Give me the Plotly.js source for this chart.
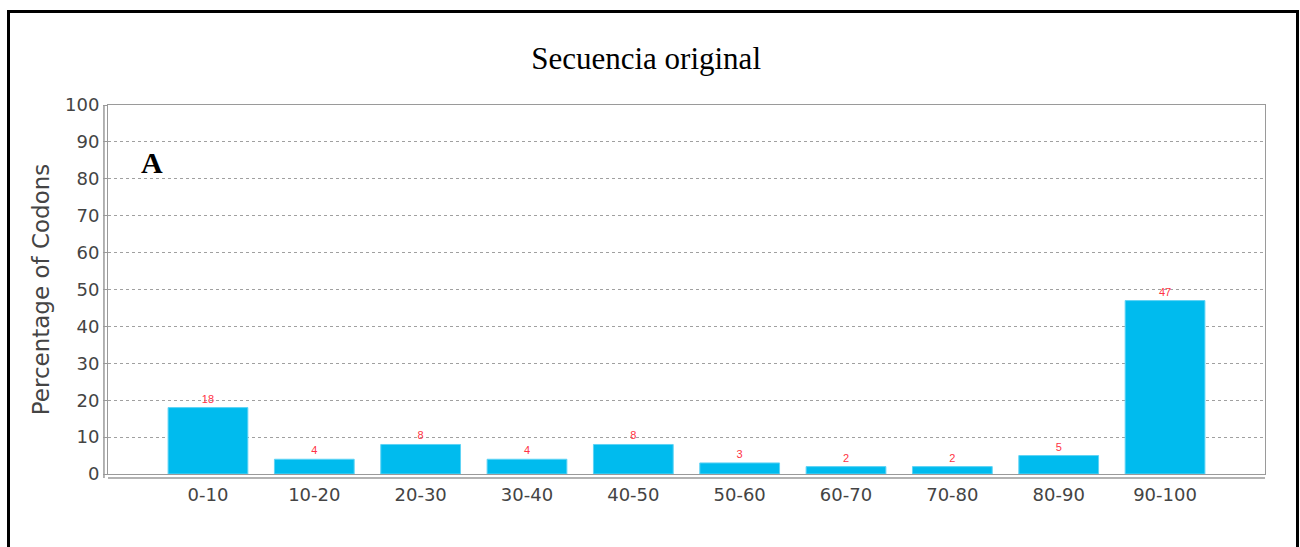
<!DOCTYPE html>
<html>
<head>
<meta charset="utf-8">
<script src="https://cdn.plot.ly/plotly-3.0.1.min.js"></script>
<style>
  html, body { margin: 0; padding: 0; background: #fff; }
  #wrap { position: relative; width: 1300px; height: 547px; overflow: hidden; }
  #chart { width: 1300px; height: 547px; }
  #frame { position: absolute; left: 7px; top: 10px; width: 1286px; height: 560px; border: 3px solid #000; pointer-events: none; }
</style>
</head>
<body>
<div id="wrap">
  <div id="chart"></div>
  <div id="frame"></div>
</div>
<script>
const categories = ["0-10", "10-20", "20-30", "30-40", "40-50", "50-60", "60-70", "70-80", "80-90", "90-100"];
const percentages = [18, 4, 8, 4, 8, 3, 2, 2, 5, 47];
const yTicks = [0, 10, 20, 30, 40, 50, 60, 70, 80, 90, 100];

const trace = {
  type: 'bar',
  x: categories,
  y: percentages,
  width: 0.75,
  marker: { color: '#00BBEE', line: { color: '#5FD3F5', width: 1 } },
  text: percentages.map(String),
  textposition: 'outside',
  cliponaxis: false,
  textfont: { family: 'Arial, Liberation Sans, sans-serif', size: 11, color: '#FF3344' },
  hoverinfo: 'x+y'
};

const layout = {
  width: 1300,
  height: 547,
  margin: { l: 108, r: 35, t: 105, b: 73 },
  paper_bgcolor: '#ffffff',
  plot_bgcolor: '#ffffff',
  showlegend: false,
  title: {
    text: 'Secuencia original',
    font: { family: 'Liberation Serif, Times New Roman, serif', size: 31, color: '#000' },
    x: 0.497, xanchor: 'center',
    y: 0.893, yanchor: 'middle'
  },
  xaxis: {
    type: 'category',
    range: [-0.94, 9.94],
    showgrid: false,
    zeroline: false,
    showline: true,
    linecolor: '#9a9a9a',
    linewidth: 1,
    mirror: true,
    ticks: '',
    ticklen: 0,
    ticklabelstandoff: 4,
    tickfont: { family: 'DejaVu Sans, sans-serif', size: 18, color: '#444' },
    automargin: false
  },
  yaxis: {
    range: [0, 100],
    tickvals: yTicks,
    ticktext: yTicks.map(String),
    showgrid: true,
    gridcolor: '#a0a0a0',
    griddash: 'dot',
    gridwidth: 1,
    zeroline: false,
    showline: true,
    linecolor: '#9a9a9a',
    linewidth: 1,
    mirror: true,
    ticks: 'outside',
    ticklen: 4,
    tickcolor: '#9a9a9a',
    tickfont: { family: 'DejaVu Sans, sans-serif', size: 18, color: '#444' },
    title: {
      text: 'Percentage of Codons',
      font: { family: 'DejaVu Sans, sans-serif', size: 23, color: '#444' },
      standoff: 8
    },
    automargin: false
  },
  shapes: [
    { type: 'line', xref: 'paper', yref: 'paper', x0: 0, x1: 1, y0: -0.011, y1: -0.011,
      line: { color: '#9a9a9a', width: 1.5 } },
    { type: 'line', xref: 'paper', yref: 'paper', x0: -0.0035, x1: -0.0035, y0: -0.011, y1: 1,
      line: { color: '#9a9a9a', width: 1.5 } }
  ],
  annotations: [
    { text: '<b>A</b>', xref: 'paper', yref: 'paper', x: 0.038, y: 0.845,
      xanchor: 'center', yanchor: 'middle', showarrow: false,
      font: { family: 'Liberation Serif, Times New Roman, serif', size: 30, color: '#000' } }
  ]
};

Plotly.newPlot('chart', [trace], layout, { displayModeBar: false, staticPlot: true });
</script>
</body>
</html>
